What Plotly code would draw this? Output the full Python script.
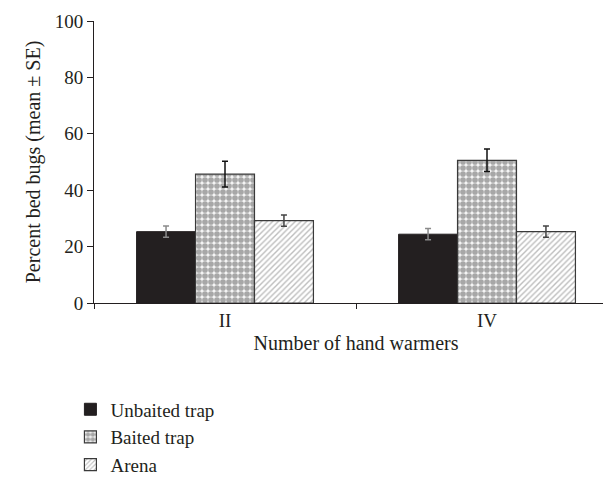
import plotly.graph_objects as go

categories = ["II", "IV"]
series_names = ["Unbaited trap", "Baited trap", "Arena"]
unbaited = [25.3, 24.4]
baited = [45.7, 50.6]
arena = [29.2, 25.3]
unbaited_se = [2.0, 2.0]
baited_se = [4.6, 4.0]
arena_se = [2.0, 2.0]

font_family = "Liberation Serif"

fig = go.Figure()
fig.add_trace(go.Bar(
    name=series_names[0], x=categories, y=unbaited,
    marker=dict(color="#231f20", line=dict(color="#231f20", width=1)),
    error_y=dict(type="data", array=unbaited_se, color="#8a8a8a", thickness=1.5, width=3),
))
fig.add_trace(go.Bar(
    name=series_names[1], x=categories, y=baited,
    marker=dict(color="white", line=dict(color="#3a3a3a", width=1.2),
                pattern=dict(shape=".", fgcolor="#5a5a5a", bgcolor="#f4f4f4", size=6, solidity=0.7)),
    error_y=dict(type="data", array=baited_se, color="#111111", thickness=1.5, width=3),
))
fig.add_trace(go.Bar(
    name=series_names[2], x=categories, y=arena,
    marker=dict(color="white", line=dict(color="#3a3a3a", width=1.2),
                pattern=dict(shape="/", fgcolor="#7c7c7c", bgcolor="white", size=4, solidity=0.35)),
    error_y=dict(type="data", array=arena_se, color="#444444", thickness=1.5, width=3),
))

fig.update_layout(
    width=611, height=477,
    margin=dict(l=86, r=1, t=13, b=169),
    plot_bgcolor="white", paper_bgcolor="white",
    barmode="group", bargap=0.325, bargroupgap=0,
    font=dict(family=font_family, size=19, color="#231f20"),
    showlegend=True,
    legend=dict(x=-0.045, y=-0.31, xanchor="left", yanchor="top",
                font=dict(family=font_family, size=19, color="#231f20"),
                tracegroupgap=0, itemwidth=30, bgcolor="rgba(0,0,0,0)"),
    xaxis=dict(
        showline=True, linecolor="#231f20", linewidth=1,
        ticks="outside", tickson="boundaries", ticklen=5, tickcolor="#231f20",
        title=dict(text="Number of hand warmers", standoff=6, font=dict(size=20)),
        tickfont=dict(size=19),
    ),
    yaxis=dict(
        range=[0, 100], dtick=20, showgrid=False, zeroline=False,
        showline=True, linecolor="#231f20", linewidth=1,
        ticks="outside", ticklen=6, tickcolor="#231f20",
        title=dict(text="Percent bed bugs (mean ± SE)", standoff=8, font=dict(size=20)),
        tickfont=dict(size=19),
    ),
)

fig.write_html("out.html")
